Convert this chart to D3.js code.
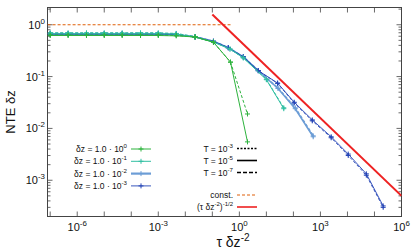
<!DOCTYPE html>
<html>
<head>
<meta charset="utf-8">
<script src="https://cdn.jsdelivr.net/npm/d3@7"></script>
<style>
  body { margin: 0; background: #fff; }
  svg { display: block; font-family: "Liberation Sans", Arial, sans-serif; }
</style>
</head>
<body>
<svg id="chart" width="415" height="249"></svg>
<script>

// Sample points (tau * dz^-2) and NTE values per dz, for T = 1e-5 (solid) and T = 1e-7 (dashed)
var tauG = [1e-7, 4.6e-7, 2.2e-6, 1e-5, 4.6e-5, 2.2e-4, 1e-3, 4.6e-3, 2.3e-2, 0.11, 0.47, 2.0];
var valG5 = [0.62, 0.62, 0.62, 0.62, 0.62, 0.62, 0.62, 0.61, 0.58, 0.46, 0.19, 0.0055];
var valG7 = [0.63, 0.63, 0.63, 0.63, 0.63, 0.63, 0.63, 0.62, 0.58, 0.46, 0.19, 0.019];

var tauT = [1e-7, 4.6e-7, 2.2e-6, 1e-5, 4.6e-5, 2.2e-4, 1e-3, 4.6e-3, 2.3e-2, 0.11, 0.45, 1.4, 10, 44];
var valT5 = [0.67, 0.67, 0.67, 0.67, 0.67, 0.67, 0.67, 0.66, 0.58, 0.46, 0.34, 0.23, 0.087, 0.024];
var valT7 = [0.70, 0.70, 0.70, 0.70, 0.70, 0.70, 0.70, 0.68, 0.59, 0.47, 0.34, 0.23, 0.089, 0.025];

var tauB = [1e-7, 4.6e-7, 2.2e-6, 1e-5, 4.6e-5, 2.2e-4, 1e-3, 4.6e-3, 2.3e-2, 0.11, 0.39, 1.4, 5.0, 27, 117, 540];
var valB5 = [0.66, 0.66, 0.66, 0.66, 0.66, 0.66, 0.66, 0.65, 0.58, 0.48, 0.36, 0.24, 0.13, 0.059, 0.024, 0.0069];
var valB7 = [0.68, 0.68, 0.68, 0.68, 0.68, 0.68, 0.68, 0.66, 0.59, 0.48, 0.36, 0.24, 0.13, 0.060, 0.025, 0.0072];

var tauD = [1e-7, 4.6e-7, 2.2e-6, 1e-5, 4.6e-5, 2.2e-4, 1e-3, 4.6e-3, 2.3e-2, 0.11, 0.39, 1.4, 5.0, 26, 107, 500, 2500, 1.07e4, 5e4, 2.1e5];
var valD5 = [0.66, 0.66, 0.66, 0.66, 0.66, 0.66, 0.66, 0.65, 0.58, 0.48, 0.36, 0.24, 0.13, 0.075, 0.032, 0.0146, 0.0069, 0.0032, 0.00133, 0.00032];
var valD7 = [0.67, 0.67, 0.67, 0.67, 0.67, 0.67, 0.67, 0.66, 0.58, 0.48, 0.36, 0.24, 0.13, 0.074, 0.031, 0.0140, 0.0066, 0.0030, 0.00125, 0.00030];

// Reference lines
var constTau = [8e-8, 0.47];
var constVal = [1, 1];
var powTau = [0.1, 1e6];
var powVal = [1.58, 5.0e-4];

// Legend labels
var dzLabels = [["δz = 1.0 · 10", "0"], ["δz = 1.0 · 10", "-1"], ["δz = 1.0 · 10", "-2"], ["δz = 1.0 · 10", "-3"]];
var tLabels = [["T = 10", "-3"], ["T = 10", "-5"], ["T = 10", "-7"]];

// Axis ticks
var xTickExp = [-7, -6, -5, -4, -3, -2, -1, 0, 1, 2, 3, 4, 5, 6];
var xLabelExp = [-6, -3, 0, 3, 6];
var yTickExp = [-4, -3, -2, -1, 0];

var svg = d3.select("#chart");

// Plot box
var boxL = 47.5, boxR = 401.5, boxT = 7.5, boxB = 216.5;

var x = d3.scaleLog().domain([Math.pow(10, -7.1), 1e6]).range([boxL, boxR]);
var y = d3.scaleLog().domain([2e-4, 2.15]).range([boxB, boxT]);

var axisColor = "#444";

// Clip for data
svg.append("clipPath").attr("id", "clip")
  .append("rect").attr("x", boxL).attr("y", boxT)
  .attr("width", boxR - boxL).attr("height", boxB - boxT);

// Ticks
var g = svg.append("g");
xTickExp.forEach(function(e) {
    var px = x(Math.pow(10, e));
    if (px < boxL + 0.5 || px > boxR + 0.5) return;
    g.append("line").attr("x1", px).attr("x2", px).attr("y1", boxB).attr("y2", boxB - 5)
        .attr("stroke", axisColor).attr("stroke-width", 0.8);
    g.append("line").attr("x1", px).attr("x2", px).attr("y1", boxT).attr("y2", boxT + 5)
        .attr("stroke", axisColor).attr("stroke-width", 0.8);
});
yTickExp.forEach(function(e) {
    for (var m = 1; m < 10; m++) {
        var v = m * Math.pow(10, e);
        var py = y(v);
        if (py < boxT || py > boxB) continue;
        var len = m == 1 ? 5 : 3;
        g.append("line").attr("x1", boxL).attr("x2", boxL + len).attr("y1", py).attr("y2", py)
            .attr("stroke", axisColor).attr("stroke-width", 0.8);
        g.append("line").attr("x1", boxR).attr("x2", boxR - len).attr("y1", py).attr("y2", py)
            .attr("stroke", axisColor).attr("stroke-width", 0.8);
    }
});

// Frame
svg.append("rect").attr("x", boxL).attr("y", boxT)
    .attr("width", boxR - boxL).attr("height", boxB - boxT)
    .attr("fill", "none").attr("stroke", axisColor).attr("stroke-width", 1);

// Power label helper
function powText(sel, base, sup, size) {
    sel.append("tspan").text(base);
    sel.append("tspan").attr("dy", -size * 0.45).attr("font-size", size * 0.72).text(sup);
}

// X tick labels
xLabelExp.forEach(function(e) {
    var t = svg.append("text").attr("x", x(Math.pow(10, e))).attr("y", 231)
        .attr("text-anchor", "middle").attr("font-size", 11).attr("fill", "#111");
    powText(t, "10", String(e), 11);
});

// Y tick labels
yTickExp.forEach(function(e) {
    var py = y(Math.pow(10, e));
    if (py < boxT || py > boxB) return;
    var t = svg.append("text").attr("x", 45).attr("y", py + 4)
        .attr("text-anchor", "end").attr("font-size", 11).attr("fill", "#111");
    powText(t, "10", String(e), 11);
});

// Axis titles
svg.append("text").attr("transform", "translate(15,112) rotate(-90)")
    .attr("text-anchor", "middle").attr("font-size", 13).attr("fill", "#111").text("NTE δz");
var xt = svg.append("text").attr("x", 233).attr("y", 247)
    .attr("text-anchor", "middle").attr("font-size", 14).attr("fill", "#111");
powText(xt, "τ δz", "-2", 14);

// Line definition
var line = d3.line()
    .x(function(d) { return x(d[0]); })
    .y(function(d) { return y(d[1]); });

var plot = svg.append("g").attr("clip-path", "url(#clip)");

// Reference lines
plot.append("path").datum(d3.zip(constTau, constVal))
    .attr("d", line).attr("fill", "none")
    .attr("stroke", "#e0600a").attr("stroke-width", 1.2).attr("stroke-dasharray", "3,2");
plot.append("path").datum(d3.zip(powTau, powVal))
    .attr("d", line).attr("fill", "none")
    .attr("stroke", "#ee2222").attr("stroke-width", 2);

var series = [
    {tau: tauB, v5: valB5, v7: valB7, color: "#6c9dd6", width: 1.6},
    {tau: tauD, v5: valD5, v7: valD7, color: "#2444b6", width: 0.9},
    {tau: tauT, v5: valT5, v7: valT7, color: "#30bfa2", width: 1},
    {tau: tauG, v5: valG5, v7: valG7, color: "#2db33d", width: 1}
];

var cross = "M-2.5,0H2.5M0,-2.5V2.5";

series.forEach(function(s) {
    [[s.v7, "3,2"], [s.v5, null]].forEach(function(p) {
        var data = d3.zip(s.tau, p[0]);
        plot.append("path").datum(data)
            .attr("d", line).attr("fill", "none")
            .attr("stroke", s.color).attr("stroke-width", s.width)
            .attr("stroke-dasharray", p[1]);
        plot.selectAll(null).data(data).enter().append("path")
            .attr("transform", function(d) { return "translate(" + x(d[0]) + "," + y(d[1]) + ")"; })
            .attr("d", cross).attr("stroke", s.color).attr("stroke-width", 1);
    });
});

// Legend: dz
var legColors = ["#2db33d", "#30bfa2", "#6c9dd6", "#2444b6"];
var legWidths = [1, 1, 2.2, 0.9];
dzLabels.forEach(function(l, i) {
    var ly = 149 + i * 12.3;
    var t = svg.append("text").attr("x", 127).attr("y", ly + 3)
        .attr("text-anchor", "end").attr("font-size", 8.5).attr("fill", "#111");
    powText(t, l[0], l[1], 8.5);
    svg.append("line").attr("x1", 131).attr("x2", 151).attr("y1", ly).attr("y2", ly)
        .attr("stroke", legColors[i]).attr("stroke-width", legWidths[i]);
    svg.append("path").attr("transform", "translate(141," + ly + ")")
        .attr("d", cross).attr("stroke", legColors[i]).attr("stroke-width", 1);
});

// Legend: T
var tDash = ["2,1.5", null, "4,2"];
tLabels.forEach(function(l, i) {
    var ly = 148.5 + i * 12;
    var t = svg.append("text").attr("x", 233).attr("y", ly + 3)
        .attr("text-anchor", "end").attr("font-size", 8.5).attr("fill", "#111");
    powText(t, l[0], l[1], 8.5);
    svg.append("line").attr("x1", 237).attr("x2", 257).attr("y1", ly).attr("y2", ly)
        .attr("stroke", "#000").attr("stroke-width", 1.6).attr("stroke-dasharray", tDash[i]);
});

// Legend: reference lines
svg.append("text").attr("x", 233).attr("y", 198).attr("text-anchor", "end")
    .attr("font-size", 8.5).attr("fill", "#111").text("const.");
svg.append("line").attr("x1", 237).attr("x2", 257).attr("y1", 195).attr("y2", 195)
    .attr("stroke", "#e0600a").attr("stroke-width", 1.2).attr("stroke-dasharray", "3,2");
var rt = svg.append("text").attr("x", 233).attr("y", 210).attr("text-anchor", "end")
    .attr("font-size", 8.5).attr("fill", "#111");
rt.append("tspan").text("(τ δz");
rt.append("tspan").attr("dy", -3.8).attr("font-size", 6).text("-2");
rt.append("tspan").attr("dy", 3.8).text(")");
rt.append("tspan").attr("dy", -3.8).attr("font-size", 6).text("-1/2");
svg.append("line").attr("x1", 237).attr("x2", 257).attr("y1", 207).attr("y2", 207)
    .attr("stroke", "#ee2222").attr("stroke-width", 1.6);

</script>
</body>
</html>
